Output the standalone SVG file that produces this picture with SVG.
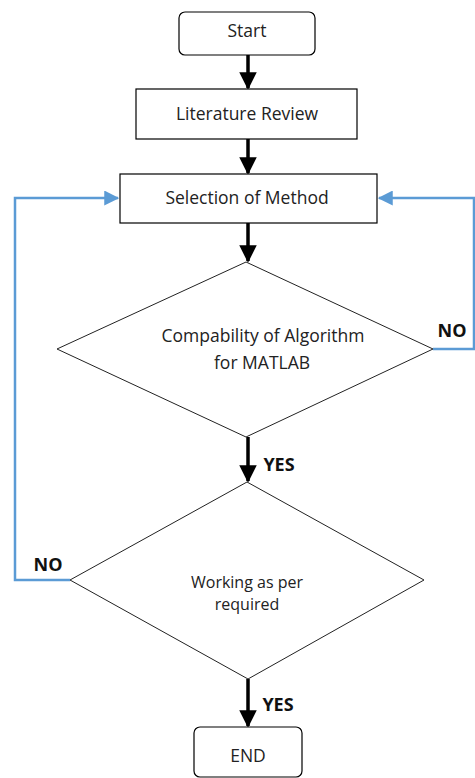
<svg xmlns="http://www.w3.org/2000/svg" width="475" height="778" viewBox="0 0 475 778">
<style>
.box{fill:#fff;stroke:#000;stroke-width:1.2}
.dia{fill:#fff;stroke:#222;stroke-width:1}
.t{font-family:"Open Sans","Liberation Sans",sans-serif;font-size:17.5px;fill:#222;text-anchor:middle}
.lbl{font-family:"Open Sans","Liberation Sans",sans-serif;font-size:18px;font-weight:bold;fill:#111;text-anchor:middle}
.arr{stroke:#000;stroke-width:3.5;fill:none;marker-end:url(#ah)}
.blue{stroke:#5B9BD5;stroke-width:2.5;fill:none;marker-end:url(#bh)}
</style>
<defs>
<marker id="ah" markerWidth="5" markerHeight="5" refX="4.5" refY="2.5" orient="auto" markerUnits="strokeWidth" viewBox="0 0 5 5">
<path d="M0,0 L5,2.5 L0,5 Z" fill="#000"/>
</marker>
<marker id="bh" markerWidth="6" markerHeight="6" refX="5.5" refY="3" orient="auto" markerUnits="strokeWidth" viewBox="0 0 6 6">
<path d="M0,0 L6,3 L0,6 Z" fill="#5B9BD5"/>
</marker>
</defs>
<g id="connectors">
<line class="arr" x1="248" y1="55" x2="248" y2="88"/>
<line class="arr" x1="248" y1="139" x2="248" y2="173"/>
<line class="arr" x1="248" y1="223" x2="248" y2="261"/>
<line class="arr" x1="248" y1="437" x2="248" y2="481"/>
<line class="arr" x1="248" y1="679" x2="248" y2="726"/>
<polyline class="blue" points="433,349 474,349 474,198 379,198"/>
<polyline class="blue" points="70,580 15,580 15,198 118,198"/>
<text class="lbl" x="279" y="471">YES</text>
<text class="lbl" x="278" y="711">YES</text>
<text class="lbl" x="452" y="337">NO</text>
<text class="lbl" x="48" y="571">NO</text>
</g>
<g id="start">
<rect class="box" x="179" y="12" width="136" height="43" rx="6"/>
<text class="t" x="247" y="37">Start</text>
</g>
<g id="literature">
<rect class="box" x="136" y="89" width="221" height="50"/>
<text class="t" x="247" y="120">Literature Review</text>
</g>
<g id="selection">
<rect class="box" x="120" y="174" width="257" height="49"/>
<text class="t" x="247" y="204">Selection of Method</text>
</g>
<g id="compat">
<polygon class="dia" points="246,262 433,349 246,437 57,349"/>
<text class="t" x="263" y="342">Compability of Algorithm</text>
<text class="t" x="262" y="369">for MATLAB</text>
</g>
<g id="working">
<polygon class="dia" points="247,482 424,580 248,679 70,580"/>
<text class="t" x="247" y="588" style="font-size:16px">Working as per</text>
<text class="t" x="247" y="610" style="font-size:16px">required</text>
</g>
<g id="end">
<rect class="box" x="194" y="727" width="108" height="50" rx="6"/>
<text class="t" x="248" y="762">END</text>
</g>
</svg>
